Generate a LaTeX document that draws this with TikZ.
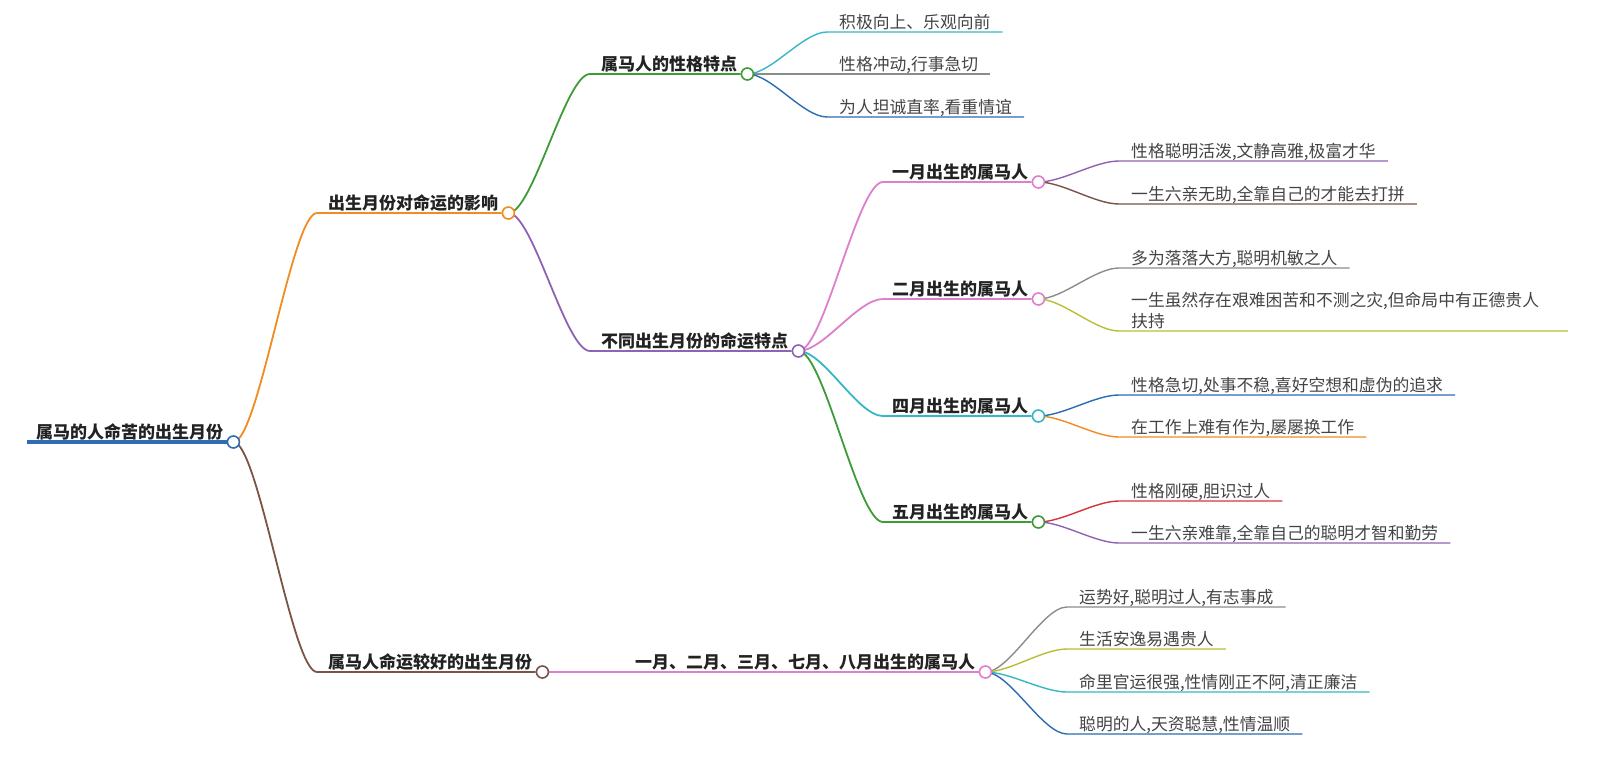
\documentclass[tikz,border=0pt]{standalone}
\usepackage{fontspec}
\newfontfamily\cjk{Noto Sans CJK SC}
\usepackage{xcolor}
\definecolor{rootblue}{HTML}{2E6DB4}
\definecolor{orangeline}{HTML}{F08C22}
\definecolor{brownline}{HTML}{7A5446}
\definecolor{greenline}{HTML}{3E9B38}
\definecolor{purpleline}{HTML}{8E63B5}
\definecolor{pinkline}{HTML}{DD7FCB}
\definecolor{cyanline}{HTML}{36B7C6}
\definecolor{grayline}{HTML}{8C8C8C}
\definecolor{blueline}{HTML}{2B6CB3}
\definecolor{redline}{HTML}{D8333B}
\definecolor{oliveline}{HTML}{B8BF35}
\definecolor{topictext}{HTML}{222222}
\definecolor{leaftext}{HTML}{444444}
\usetikzlibrary{calc,backgrounds}
\tikzset{
    topic/.style={
        font=\cjk\bfseries\fontsize{17}{20}\selectfont,
        text=topictext,
        inner sep=0pt,
        anchor=base west,
    },
    leaf/.style={
        font=\cjk\fontsize{16.8}{21}\selectfont,
        text=leaftext,
        inner sep=0pt,
        anchor=base west,
    },
    knob/.style={
        circle,
        draw=#1,
        fill=white,
        line width=1.6pt,
        minimum size=12pt,
        inner sep=0pt,
    },
    link/.style={
        draw=#1,
        line width=1.8pt,
    },
    twig/.style={
        draw=#1,
        line width=1.4pt,
    },
}
% curve from a knob to the start of an underline, then along it
\newcommand{\arm}[5]{%
    \draw[#1=#2] let \p1=(#3.center), \p2=(#4) in
        (\p1) .. controls ($(\p1)!0.3!(\x2,\y1)$) and ($(\p2)!0.3!(\x1,\y2)$) .. (\p2) -- #5;
}

\begin{document}
\begin{tikzpicture}[x=1pt,y=-1pt]
    \useasboundingbox (0,0) rectangle (1605,758);

    % topics
    \node[topic] (root) at (36,438.5) {属马的人命苦的出生月份};
    \node[knob=rootblue] (rootk) at ([xshift=10pt,yshift=-3.5pt]root.base east) {};
    \coordinate (roots) at (27,442);

    \node[topic] (fate) at (328,209.5) {出生月份对命运的影响};
    \node[knob=orangeline] (fatek) at ([xshift=10pt,yshift=-3.5pt]fate.base east) {};
    \coordinate (fates) at (317,213);

    \node[topic] (good) at (328,668.5) {属马人命运较好的出生月份};
    \node[knob=brownline] (goodk) at ([xshift=10pt,yshift=-3.5pt]good.base east) {};
    \coordinate (goods) at (317,672);

    \node[topic] (trait) at (601,70.5) {属马人的性格特点};
    \node[knob=greenline] (traitk) at ([xshift=10pt,yshift=-3.5pt]trait.base east) {};
    \coordinate (traits) at (590,74);

    \node[topic] (month) at (601,347.5) {不同出生月份的命运特点};
    \node[knob=purpleline] (monthk) at ([xshift=10pt,yshift=-3.5pt]month.base east) {};
    \coordinate (months) at (590,351);

    \node[topic] (lucky) at (635,668.5) {一月、二月、三月、七月、八月出生的属马人};
    \node[knob=pinkline] (luckyk) at ([xshift=10pt,yshift=-3.5pt]lucky.base east) {};

    \node[topic] (jan) at (892,178.5) {一月出生的属马人};
    \node[knob=pinkline] (jank) at ([xshift=10pt,yshift=-3.5pt]jan.base east) {};
    \coordinate (jans) at (883,182);

    \node[topic] (feb) at (892,295.5) {二月出生的属马人};
    \node[knob=pinkline] (febk) at ([xshift=10pt,yshift=-3.5pt]feb.base east) {};
    \coordinate (febs) at (883,299);

    \node[topic] (apr) at (892,412.5) {四月出生的属马人};
    \node[knob=cyanline] (aprk) at ([xshift=10pt,yshift=-3.5pt]apr.base east) {};
    \coordinate (aprs) at (883,416);

    \node[topic] (may) at (892,518.5) {五月出生的属马人};
    \node[knob=greenline] (mayk) at ([xshift=10pt,yshift=-3.5pt]may.base east) {};
    \coordinate (mays) at (883,522);

    % leaves
    \node[leaf] (traita) at (839,28.5) {积极向上、乐观向前};
    \node[leaf] (traitb) at (839,70.5) {性格冲动,行事急切};
    \node[leaf] (traitc) at (839,113.5) {为人坦诚直率,看重情谊};
    \coordinate (traitas) at (827,32);
    \coordinate (traitbs) at (827,74);
    \coordinate (traitcs) at (827,117);

    \node[leaf] (jana) at (1131,157.5) {性格聪明活泼,文静高雅,极富才华};
    \node[leaf] (janb) at (1131,200.5) {一生六亲无助,全靠自己的才能去打拼};
    \coordinate (janas) at (1119,161);
    \coordinate (janbs) at (1119,204);

    \node[leaf] (feba) at (1131,264.5) {多为落落大方,聪明机敏之人};
    \node[leaf, anchor=south west, align=left] (febb) at (1131,328.8)
        {一生虽然存在艰难困苦和不测之灾,但命局中有正德贵人\\扶持};
    \coordinate (febas) at (1119,268);
    \coordinate (febbs) at (1119,331);
    \coordinate (febbe) at (1568,331);

    \node[leaf] (apra) at (1131,391.5) {性格急切,处事不稳,喜好空想和虚伪的追求};
    \node[leaf] (aprb) at (1131,433.5) {在工作上难有作为,屡屡换工作};
    \coordinate (apras) at (1119,395);
    \coordinate (aprbs) at (1119,437);

    \node[leaf] (maya) at (1131,497.5) {性格刚硬,胆识过人};
    \node[leaf] (mayb) at (1131,539.5) {一生六亲难靠,全靠自己的聪明才智和勤劳};
    \coordinate (mayas) at (1119,501);
    \coordinate (maybs) at (1119,543);

    \node[leaf] (luckya) at (1079,603.5) {运势好,聪明过人,有志事成};
    \node[leaf] (luckyb) at (1079,645.5) {生活安逸易遇贵人};
    \node[leaf] (luckyc) at (1079,688.5) {命里官运很强,性情刚正不阿,清正廉洁};
    \node[leaf] (luckyd) at (1079,730.5) {聪明的人,天资聪慧,性情温顺};
    \coordinate (luckyas) at (1067,607);
    \coordinate (luckybs) at (1067,649);
    \coordinate (luckycs) at (1067,692);
    \coordinate (luckyds) at (1067,734);

    \begin{pgfonlayer}{background}
        \fill[white] (0,0) rectangle (1605,758);
        \draw[rootblue, line width=4pt] (roots) -- (rootk);

        \arm{link}{orangeline}{rootk}{fates}{(fatek)}
        \arm{link}{brownline}{rootk}{goods}{(goodk)}
        \arm{link}{greenline}{fatek}{traits}{(traitk)}
        \arm{link}{purpleline}{fatek}{months}{(monthk)}
        \draw[link=pinkline] (goodk) -- (luckyk);
        \arm{link}{pinkline}{monthk}{jans}{(jank)}
        \arm{link}{pinkline}{monthk}{febs}{(febk)}
        \arm{link}{cyanline}{monthk}{aprs}{(aprk)}
        \arm{link}{greenline}{monthk}{mays}{(mayk)}

        \arm{twig}{cyanline}{traitk}{traitas}{([xshift=12pt,yshift=-3.5pt]traita.base east)}
        \arm{twig}{grayline}{traitk}{traitbs}{([xshift=12pt,yshift=-3.5pt]traitb.base east)}
        \arm{twig}{blueline}{traitk}{traitcs}{([xshift=12pt,yshift=-3.5pt]traitc.base east)}

        \arm{twig}{purpleline}{jank}{janas}{([xshift=12pt,yshift=-3.5pt]jana.base east)}
        \arm{twig}{brownline}{jank}{janbs}{([xshift=12pt,yshift=-3.5pt]janb.base east)}

        \arm{twig}{grayline}{febk}{febas}{([xshift=12pt,yshift=-3.5pt]feba.base east)}
        \arm{twig}{oliveline}{febk}{febbs}{(febbe)}

        \arm{twig}{blueline}{aprk}{apras}{([xshift=12pt,yshift=-3.5pt]apra.base east)}
        \arm{twig}{orangeline}{aprk}{aprbs}{([xshift=12pt,yshift=-3.5pt]aprb.base east)}

        \arm{twig}{redline}{mayk}{mayas}{([xshift=12pt,yshift=-3.5pt]maya.base east)}
        \arm{twig}{purpleline}{mayk}{maybs}{([xshift=12pt,yshift=-3.5pt]mayb.base east)}

        \arm{twig}{grayline}{luckyk}{luckyas}{([xshift=12pt,yshift=-3.5pt]luckya.base east)}
        \arm{twig}{oliveline}{luckyk}{luckybs}{([xshift=12pt,yshift=-3.5pt]luckyb.base east)}
        \arm{twig}{cyanline}{luckyk}{luckycs}{([xshift=12pt,yshift=-3.5pt]luckyc.base east)}
        \arm{twig}{blueline}{luckyk}{luckyds}{([xshift=12pt,yshift=-3.5pt]luckyd.base east)}
    \end{pgfonlayer}
\end{tikzpicture}
\end{document}
